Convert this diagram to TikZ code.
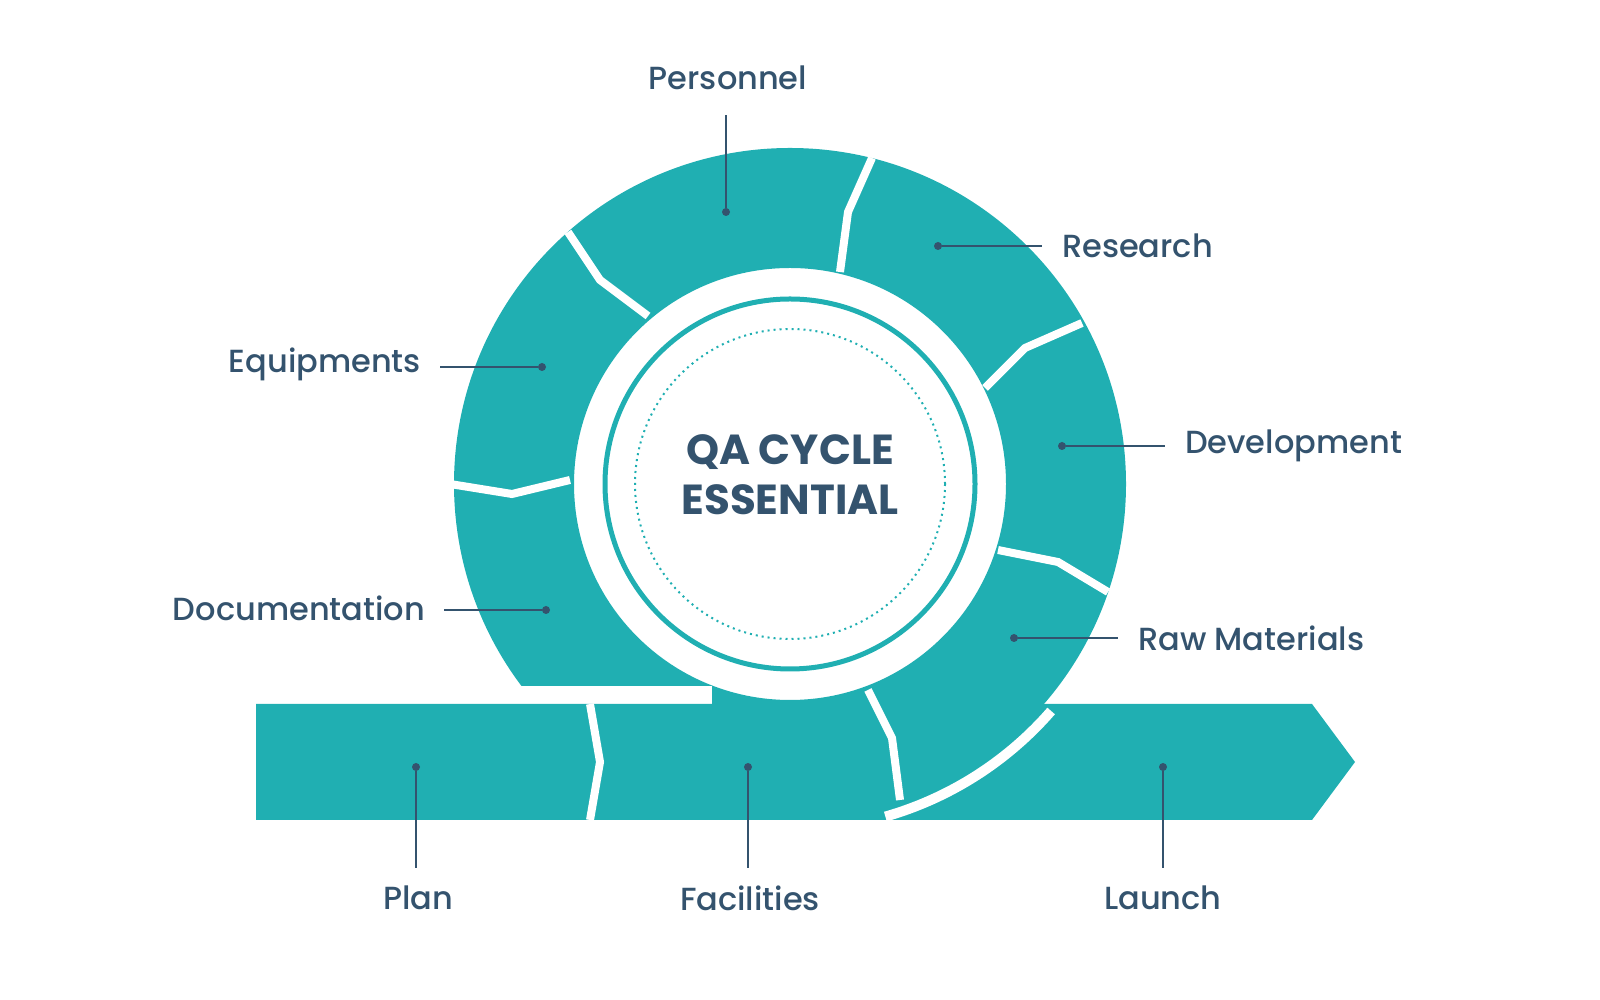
\documentclass[tikz,border=0pt]{standalone}
\usepackage{fontspec}
\setmainfont{Poppins}
\newfontfamily\medfont{Poppins}[UprightFont=* Medium]
\usepackage{tikz}
\definecolor{teal}{HTML}{20AFB2}
\definecolor{ink}{HTML}{34536E}
\tikzset{
  gap/.style={white, line width=4pt, line join=miter},
  lbl/.style={text=ink, font=\medfont\fontsize{16}{18}\selectfont},
  lead/.style={ink, line width=0.7pt},
  pin/.style={fill=ink, circle, inner sep=0pt, minimum size=4pt},
}
\begin{document}
\begin{tikzpicture}[x=0.5pt, y=0.5pt]
        \useasboundingbox (0,0) rectangle (1600,1000);
        % ring and bar
        \fill[teal, even odd rule] (790,516) circle (336) (790,516) circle (216);
        \fill[white] (440,296) rectangle (712,314);
        \fill[teal] (256,296) -- (1312,296) -- (1355,238) -- (1312,180) -- (256,180) -- cycle;
        \draw[white, line width=5pt] (790,516) ++(-41:346) arc (-41:-74:346);
        % separators
        \draw[gap] (872,842) -- (848,788) -- (840,728);
        \draw[gap] (1082,677) -- (1025,652) -- (985,612);
        \draw[gap] (1108,408) -- (1058,438) -- (998,450);
        \draw[gap] (900,200) -- (892,262) -- (868,310);
        \draw[gap] (568,768) -- (600,720) -- (648,684);
        \draw[gap] (450,516) -- (512,506) -- (570,520);
        \draw[gap] (590,296) -- (600,238) -- (590,180);
        % centre
        \draw[teal, line width=2.5pt] (790,516) circle (185);
        \draw[teal, line width=1pt, dotted] (790,516) circle (155);
        \node[text=ink, align=center, font=\bfseries\fontsize{21}{25}\selectfont] (title) at (790,525) {QA CYCLE\\ESSENTIAL};
        % labels
        \node[pin] (p1) at (726,788) {};
        \node[lbl] (personnel) at (728,922) {Personnel};
        \draw[lead] (p1) -- (726,885);
        \node[pin] (p2) at (938,754) {};
        \node[lbl, anchor=west] (research) at (1055,754) {Research};
        \draw[lead] (p2) -- (1042,754);
        \node[pin] (p3) at (1062,554) {};
        \node[lbl, anchor=west] (development) at (1178,554) {Development};
        \draw[lead] (p3) -- (1165,554);
        \node[pin] (p4) at (1014,362) {};
        \node[lbl, anchor=west] (raw) at (1131,362) {Raw Materials};
        \draw[lead] (p4) -- (1118,362);
        \node[pin] (p5) at (542,633) {};
        \node[lbl, anchor=east] (equipments) at (428,636) {Equipments};
        \draw[lead] (p5) -- (440,633);
        \node[pin] (p6) at (546,390) {};
        \node[lbl, anchor=east] (documentation) at (432,392) {Documentation};
        \draw[lead] (p6) -- (444,390);
        \node[pin] (p7) at (416,233) {};
        \node[lbl] (plan) at (418,102) {Plan};
        \draw[lead] (p7) -- (416,132);
        \node[pin] (p8) at (748,233) {};
        \node[lbl] (facilities) at (750,102) {Facilities};
        \draw[lead] (p8) -- (748,132);
        \node[pin] (p9) at (1163,233) {};
        \node[lbl] (launch) at (1163,102) {Launch};
        \draw[lead] (p9) -- (1163,132);
    \end{tikzpicture}
\end{document}
